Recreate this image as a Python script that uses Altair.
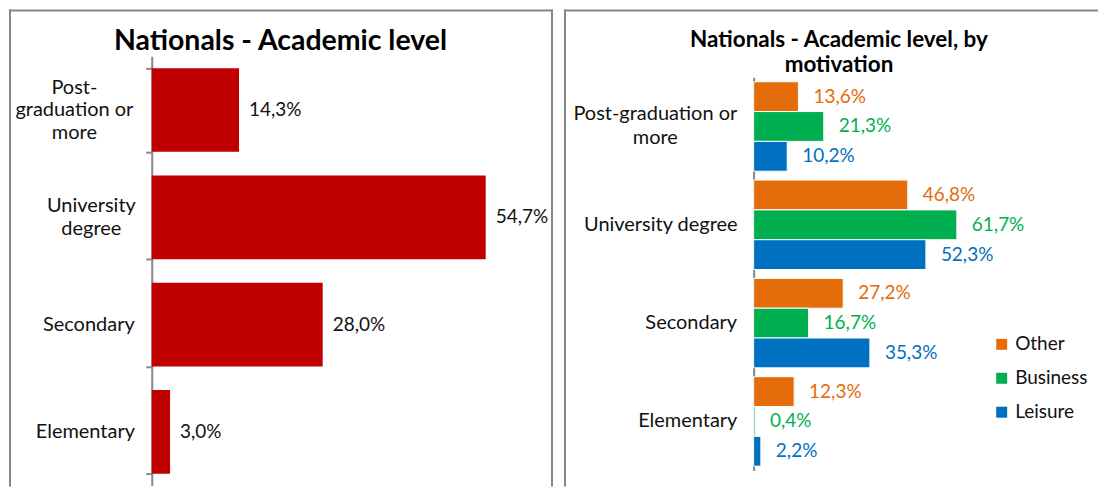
import altair as alt
import pandas as pd

# ---------------- data ----------------
categories = ["Post-graduation or more", "University degree", "Secondary", "Elementary"]
left_label_lines = [["Post-", "graduation or", "more"], ["University", "degree"], ["Secondary"], ["Elementary"]]
right_label_lines = [["Post-graduation or", "more"], ["University degree"], ["Secondary"], ["Elementary"]]

total_values = [14.3, 54.7, 28.0, 3.0]

motivations = ["Other", "Business", "Leisure"]
other_values = [13.6, 46.8, 27.2, 12.3]
business_values = [21.3, 61.7, 16.7, 0.4]
leisure_values = [10.2, 52.3, 35.3, 2.2]

left_title = "Nationals - Academic level"
right_title = ["Nationals - Academic level, by", "motivation"]

# ---------------- styling ----------------
FONT = "Lato"
GRAY = "#878787"
RED = "#C00000"
colors = ["#E46C0A", "#00B050", "#0070C0"]

left_df = pd.DataFrame({"level": categories, "value": total_values})
rows = []
for m, vals in zip(motivations, [other_values, business_values, leisure_values]):
    for c, v in zip(categories, vals):
        rows.append({"level": c, "motivation": m, "value": v})
right_df = pd.DataFrame(rows)
one = pd.DataFrame({"k": [0]})

label_calc = "replace(format(datum.value, '.1f'), '.', ',') + '%'"


def label_expr(lines_list):
    expr = "datum.value"
    for c, lines in zip(categories, lines_list):
        arr = "[" + ",".join("'" + s + "'" for s in lines) + "]"
        expr = f"datum.value === '{c}' ? {arr} : ({expr})"
    return expr


def per_label(values, default):
    return {
        "condition": [{"test": f"datum.value === '{c}'", "value": v} for c, v in zip(categories, values)],
        "value": default,
    }


def centre_offsets(lines_list, line_height):
    return [-(len(lines) - 1) * line_height / 2 for lines in lines_list]


def rule(x, y, x2=None, y2=None):
    enc = {"x": alt.value(x), "y": alt.value(y)}
    if x2 is not None:
        enc["x2"] = alt.value(x2)
    if y2 is not None:
        enc["y2"] = alt.value(y2)
    return alt.Chart(one).mark_rule(color=GRAY, strokeWidth=2, strokeCap="square").encode(**enc)


# ---------------- left panel ----------------
LW, LH = 367, 430
LLH = 23
y_left = alt.Y(
    "level:N",
    sort=categories,
    scale=alt.Scale(paddingInner=0.22, paddingOuter=0.11),
    axis=alt.Axis(
        title=None,
        labelExpr=label_expr(left_label_lines),
        labelAlign="center",
        labelBaseline="middle",
        labelPadding=per_label([72, 55, 57.5, 61], 60),
        labelOffset=per_label(centre_offsets(left_label_lines, LLH), 0),
        labelFont=FONT,
        labelFontSize=20,
        labelLineHeight=LLH,
        labelColor="#111111",
        labelLimit=300,
        domainColor=GRAY,
        domainWidth=2,
        tickColor=GRAY,
        tickWidth=2,
        tickSize=6,
        tickBand="extent",
        grid=False,
    ),
)
x_left = alt.X("value:Q", scale=alt.Scale(domain=[0, 60]), axis=None)

left_bars = alt.Chart(left_df).mark_bar(color=RED).encode(x=x_left, y=y_left)
left_text = (
    alt.Chart(left_df)
    .transform_calculate(label=label_calc)
    .mark_text(align="left", baseline="middle", dx=10, font=FONT, fontSize=19, color="#111111")
    .encode(x=x_left, y=y_left, text="label:N")
)
left_title_mark = alt.Chart(one).mark_text(
    text=left_title, font=FONT, fontSize=28.5, fontWeight="bold", align="center",
    baseline="alphabetic", color="#000000"
).encode(x=alt.value(129), y=alt.value(-6))

left = alt.layer(
    left_bars, left_text, left_title_mark,
    rule(-142, -46, y2=430), rule(-142, -46, x2=401), rule(401, -46, y2=430),
).properties(width=LW, height=LH)

# ---------------- right panel ----------------
RW = 231
RLH = 24
y_right = alt.Y(
    "level:N",
    sort=categories,
    scale=alt.Scale(range=[21, 415], paddingInner=0.09, paddingOuter=0.045),
    axis=alt.Axis(
        title=None,
        labelExpr=label_expr(right_label_lines),
        labelAlign="center",
        labelBaseline="middle",
        labelPadding=per_label([99, 93.5, 63, 66.5], 65),
        labelOffset=per_label(centre_offsets(right_label_lines, RLH), 0),
        labelFont=FONT,
        labelFontSize=20,
        labelLineHeight=RLH,
        labelColor="#111111",
        labelLimit=300,
        domainColor=GRAY,
        domainWidth=2,
        ticks=False,
        tickSize=0,
        grid=False,
    ),
)
x_right = alt.X("value:Q", scale=alt.Scale(domain=[0, 70]), axis=None)
y_off = alt.YOffset("motivation:N", sort=motivations, scale=alt.Scale(paddingInner=0, paddingOuter=0))
color_scale = alt.Scale(domain=motivations, range=colors)

right_bars = alt.Chart(right_df).mark_bar(stroke="white", strokeWidth=1).encode(
    x=x_right,
    y=y_right,
    yOffset=y_off,
    color=alt.Color(
        "motivation:N",
        sort=motivations,
        scale=color_scale,
        legend=alt.Legend(
            orient="none", legendX=842, legendY=279, title=None,
            symbolType="square", symbolSize=121, symbolStrokeWidth=0,
            labelFont=FONT, labelFontSize=19, labelOffset=4, rowPadding=14,
            labelColor="#111111",
        ),
    ),
)
right_text = (
    alt.Chart(right_df)
    .transform_calculate(label=label_calc)
    .mark_text(align="left", baseline="middle", dx=15, font=FONT, fontSize=19)
    .encode(
        x=x_right, y=y_right, yOffset=y_off, text="label:N",
        color=alt.Color("motivation:N", sort=motivations, scale=color_scale, legend=None),
    )
)
right_title_mark = alt.Chart(one).mark_text(
    text=right_title, font=FONT, fontSize=22.5, fontWeight="bold", align="center",
    baseline="alphabetic", lineHeight=25, color="#000000"
).encode(x=alt.value(85.5), y=alt.value(-9))

right = alt.layer(
    right_bars, right_text, right_title_mark,
    rule(-189, -46, y2=430), rule(-189, -46, x2=344),
).properties(width=RW, height=LH)

chart = (
    alt.hconcat(left, right, spacing=9)
    .properties(padding=0)
    .configure(font=FONT)
    .configure_view(stroke=None)
)

chart.save("out.html", embed_options={"renderer": "svg", "actions": False})
